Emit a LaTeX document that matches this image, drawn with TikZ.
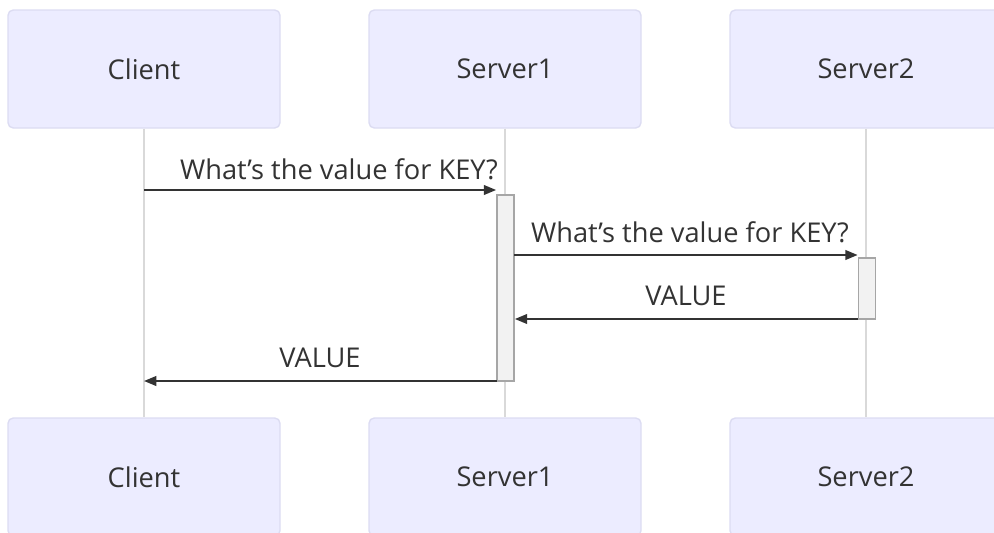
\documentclass[tikz,border=0pt]{standalone}
\usepackage{fontspec}
\setmainfont{Open Sans}
\usetikzlibrary{arrows.meta}
\definecolor{ActorFill}{HTML}{ECECFF}
\definecolor{ActorLine}{HTML}{DCDCF2}
\definecolor{LifeLine}{HTML}{D9D9D9}
\definecolor{ActFill}{HTML}{F2F2F2}
\definecolor{ActLine}{HTML}{A6A6A6}
\definecolor{MsgGray}{HTML}{333333}

\tikzset{
  actor/.style={draw=ActorLine,fill=ActorFill,line width=0.8pt,rounded corners=3pt,minimum width=5.44cm,minimum height=2.36cm,text=MsgGray,font=\fontsize{15.5}{18}\selectfont},
  actbox/.style={draw=ActLine,fill=ActFill,line width=1pt,minimum width=0.34cm,inner sep=0pt},
  msg/.style={MsgGray,line width=1.1pt,-{Triangle[length=7pt,width=5.5pt]}},
  msglabel/.style={text=MsgGray,font=\fontsize{15.5}{18}\selectfont}
}

\begin{document}
\begin{tikzpicture}
  \useasboundingbox (0,0) rectangle (19.88,10.64);
  \clip (0,0) rectangle (19.88,10.64);
  % actors, top and bottom
  \node[actor] (client) at (2.88,9.26) {Client}; \node[actor] (srvA) at (10.10,9.26) {Server1}; \node[actor] (srvB) at (17.32,9.26) {Server2};
  \node[actor] (clientB) at (2.88,1.10) {Client}; \node[actor] (srvAB) at (10.10,1.10) {Server1}; \node[actor] (srvBB) at (17.32,1.10) {Server2};
  % lifelines
  \draw[LifeLine,line width=0.8pt] (client) -- (clientB); \draw[LifeLine,line width=0.8pt] (srvA) -- (srvAB); \draw[LifeLine,line width=0.8pt] (srvB) -- (srvBB);
  % activations
  \node[actbox,minimum height=3.72cm] (actA) at (10.11,4.88) {}; \node[actbox,minimum height=1.22cm] (actB) at (17.34,4.87) {};
  % messages
  \coordinate (m1) at (2.88,6.84); \coordinate (m2) at (10.28,5.54); \coordinate (m3) at (17.16,4.26); \coordinate (m4) at (9.94,3.02);
  \draw[msg] (m1) -- (m1 -| actA.west); \node[msglabel] at (6.78,7.26) {What’s the value for KEY?};
  \draw[msg] (m2) -- (m2 -| actB.west); \node[msglabel] at (13.80,6.00) {What’s the value for KEY?};
  \draw[msg] (m3) -- (m3 -| actA.east); \node[msglabel] at (13.72,4.72) {VALUE};
  \draw[msg] (m4) -- (m4 -| client); \node[msglabel] at (6.40,3.48) {VALUE};
\end{tikzpicture}
\end{document}
